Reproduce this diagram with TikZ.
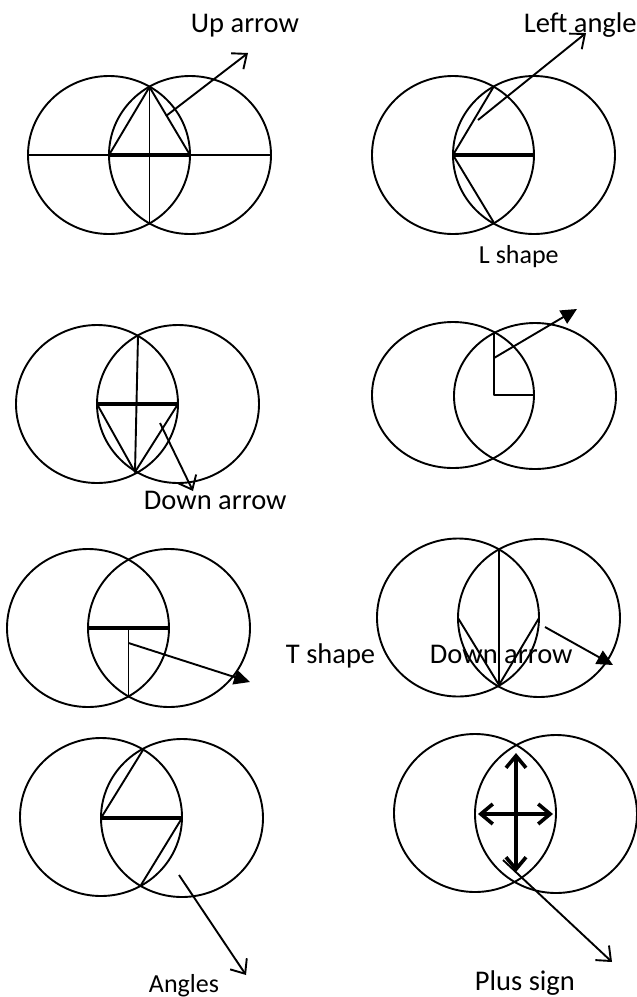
\documentclass[tikz,border=0pt]{standalone}
\usepackage{fontspec}
\setmainfont{Carlito}
\usetikzlibrary{arrows.meta}
\begin{document}
\begin{tikzpicture}[x=1pt,y=-1pt,line width=1.9pt,line join=round,
  ring/.style={draw,line width=1.9pt},
  bar/.style={line width=3.6pt},
  openarrow/.style={-{Straight Barb[length=12pt,width=20pt]}},
  fillarrow/.style={-{Triangle[length=16pt,width=15pt]}},
  plusarrow/.style={line width=3.6pt,{Straight Barb[length=12pt,width=20pt]}-{Straight Barb[length=12pt,width=20pt]}},
  lbl/.style={font=\fontsize{28.5}{34}\selectfont,inner sep=0pt,anchor=base west},
  slbl/.style={font=\fontsize{26}{31}\selectfont,inner sep=0pt,anchor=base west}]
\useasboundingbox (0,0) rectangle (637,997);
\fill[white] (0,0) rectangle (637,997);

% ---------- Panel 1: Up arrow ----------
\draw[ring] (109,155) ellipse [x radius=81pt,y radius=79pt];
\draw[ring] (190,155) ellipse [x radius=81pt,y radius=79pt];
\coordinate (a1) at (28,155);
\coordinate (a2) at (271,155);
\coordinate (aL) at (109,155);
\coordinate (aR) at (190,155);
\coordinate (aT) at (149.5,87);
\coordinate (aB) at (149.5,223);
\coordinate (aS) at (166,116);
\coordinate (aE) at (248,53);
\draw (a1) -- (a2);
\draw[bar] (aL) -- (aR);
\draw (aT) -- (aB);
\draw (aL) -- (aT) -- (aR);
\draw[openarrow] (aS) -- (aE);
\node[lbl] (upl) at (190,32) {Up arrow};

% ---------- Panel 2: Left angle ----------
\draw[ring] (453,155) ellipse [x radius=81pt,y radius=79pt];
\draw[ring] (534,155) ellipse [x radius=81pt,y radius=79pt];
\coordinate (bL) at (453,155);
\coordinate (bR) at (534,155);
\coordinate (bT) at (493.5,87);
\coordinate (bB) at (493.5,222);
\coordinate (bS) at (478,120);
\coordinate (bE) at (586,33);
\draw[bar] (bL) -- (bR);
\draw (bT) -- (bL) -- (bB);
\draw[openarrow] (bS) -- (bE);
\node[lbl] (lal) at (523,32) {Left angle};
\node[slbl] (lsl) at (478,263) {L shape};

% ---------- Panel 3: Down arrow ----------
\draw[ring] (97,404) ellipse [x radius=81pt,y radius=79pt];
\draw[ring] (178,404) ellipse [x radius=81pt,y radius=79pt];
\coordinate (cL) at (97,404);
\coordinate (cR) at (178,404);
\coordinate (cT) at (138,336);
\coordinate (cB) at (135,472);
\coordinate (cS) at (160,423);
\coordinate (cE) at (193,491);
\draw[bar] (cL) -- (cR);
\draw (cT) -- (cB);
\draw (cL) -- (cB) -- (cR);
\draw[openarrow] (cS) -- (cE);
\node[lbl] (dal) at (143,509) {Down arrow};

% ---------- Panel 4: L shape ----------
\draw[ring] (453,395) ellipse [x radius=81pt,y radius=73pt];
\draw[ring] (535,396) ellipse [x radius=81pt,y radius=73pt];
\coordinate (dT) at (494,332);
\coordinate (dC) at (494,395);
\coordinate (dR) at (534,395);
\coordinate (dS) at (494,358);
\coordinate (dE) at (577,309);
\draw (dT) -- (dC) -- (dR);
\draw[fillarrow] (dS) -- (dE);

% ---------- Panel 5: T shape ----------
\draw[ring] (88,628) ellipse [x radius=81pt,y radius=79pt];
\draw[ring] (169,628) ellipse [x radius=81pt,y radius=79pt];
\coordinate (eL) at (88,628);
\coordinate (eR) at (169,628);
\coordinate (eC) at (128.5,628);
\coordinate (eB) at (128.5,696);
\coordinate (eS) at (128.5,643);
\coordinate (eE) at (250,682);
\draw[bar] (eL) -- (eR);
\draw (eC) -- (eB);
\draw[fillarrow] (eS) -- (eE);
\node[lbl] (tsl) at (285,663) {T shape};

% ---------- Panel 6: Down arrow ----------
\draw[ring] (458,617.5) ellipse [x radius=81pt,y radius=79pt];
\draw[ring] (539,618) ellipse [x radius=81pt,y radius=79pt];
\coordinate (fL) at (458,618);
\coordinate (fR) at (539,618);
\coordinate (fT) at (499,550);
\coordinate (fB) at (499,685);
\coordinate (fS) at (545,627);
\coordinate (fE) at (613,665);
\draw (fT) -- (fB);
\draw (fL) -- (fB) -- (fR);
\draw[fillarrow] (fS) -- (fE);
\node[lbl] (dbl) at (429,663) {Down arrow};

% ---------- Panel 7: Angles ----------
\draw[ring] (101,817) ellipse [x radius=81pt,y radius=79pt];
\draw[ring] (182,818) ellipse [x radius=81pt,y radius=79pt];
\coordinate (gL) at (101,818);
\coordinate (gR) at (182,818);
\coordinate (gT) at (143,750);
\coordinate (gB) at (141,885);
\coordinate (gS) at (179,875);
\coordinate (gE) at (246,975);
\draw[bar] (gL) -- (gR);
\draw (gL) -- (gT);
\draw (gR) -- (gB);
\draw[openarrow] (gS) -- (gE);
\node[slbl] (agl) at (148,992) {Angles};

% ---------- Panel 8: Plus sign ----------
\draw[ring] (475,813) ellipse [x radius=81pt,y radius=79pt];
\draw[ring] (556,814) ellipse [x radius=81pt,y radius=79pt];
\coordinate (hT) at (516,753);
\coordinate (hB) at (516,872);
\coordinate (hL) at (478,814);
\coordinate (hR) at (553,814);
\coordinate (hS) at (503,860);
\coordinate (hE) at (612,962);
\draw[plusarrow] (hT) -- (hB);
\draw[plusarrow] (hL) -- (hR);
\draw[openarrow] (hS) -- (hE);
\node[lbl] (psl) at (474,990) {Plus sign};
\end{tikzpicture}
\end{document}
